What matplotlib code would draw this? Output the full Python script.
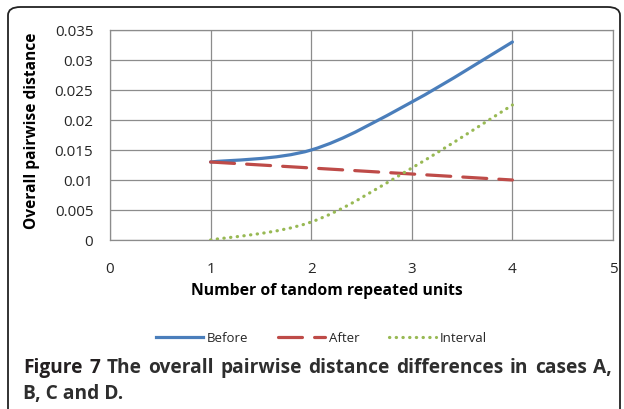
import numpy as np
import matplotlib.pyplot as plt
from matplotlib.path import Path
from matplotlib.patches import PathPatch, FancyBboxPatch
from matplotlib.lines import Line2D

# data
units = [1, 2, 3, 4]
before = [0.013, 0.015, 0.023, 0.033]
after = [0.013, 0.012, 0.011, 0.010]
interval = [0.0, 0.003, 0.012, 0.0225]

x_ticks = [0, 1, 2, 3, 4, 5]
y_ticks = [0, 0.005, 0.01, 0.015, 0.02, 0.025, 0.03, 0.035]
y_labels = ['0', '0.005', '0.01', '0.015', '0.02', '0.025', '0.03', '0.035']

caption_1 = 'Figure 7 The overall pairwise distance differences in cases A,'
caption_2 = 'B, C and D.'

c_before = '#4a7ebb'
c_after = '#be4b48'
c_interval = '#98b954'
grid_c = '#8c8c8c'
txt_c = '#262626'
cap_c = '#231f20'

plt.rcParams['font.family'] = ['Open Sans', 'DejaVu Sans']


def smooth_path(xs, ys):
    # excel-like smoothed line: cubic bezier through the points
    p = np.column_stack([xs, ys]).astype(float)
    n = len(p)
    verts = [p[0]]
    codes = [Path.MOVETO]
    for i in range(n - 1):
        p_prev = p[i - 1] if i > 0 else p[i]
        p_next = p[i + 2] if i + 2 < n else p[i + 1]
        c1 = p[i] + (p[i + 1] - p_prev) / 6.0
        c2 = p[i + 1] - (p_next - p[i]) / 6.0
        verts += [c1, c2, p[i + 1]]
        codes += [Path.CURVE4] * 3
    return Path(verts, codes)


fig = plt.figure(figsize=(6.24, 4.10), dpi=100)
ax = fig.add_axes([110 / 624, 1 - 241 / 410, 503 / 624, 210 / 410])

dash = (0, (7.5, 3.8))
dot = (0, (0.1, 2.0))
series = [
    (before, c_before, '-', 'Before'),
    (after, c_after, dash, 'After'),
    (interval, c_interval, dot, 'Interval'),
]
handles = []
for vals, col, ls, lab in series:
    patch = PathPatch(smooth_path(units, vals), fill=False, edgecolor=col,
                      lw=2.3, linestyle=ls, capstyle='round', joinstyle='round', zorder=3)
    ax.add_patch(patch)
    handles.append(Line2D([], [], color=col, lw=2.3, linestyle=ls,
                          dash_capstyle='round', label=lab))

ax.set_xlim(0, 5)
ax.set_ylim(0, 0.035)
ax.set_xticks(x_ticks)
ax.set_yticks(y_ticks)
ax.set_yticklabels(y_labels)
ax.grid(True, color=grid_c, lw=0.9)
ax.set_axisbelow(True)
for s in ax.spines.values():
    s.set_color(grid_c)
    s.set_linewidth(0.9)
ax.tick_params(length=0, labelsize=11, colors=txt_c)
ax.tick_params(axis='x', pad=15)
ax.tick_params(axis='y', pad=12)

ax.set_xlabel('Number of tandom repeated units', fontsize=11.3, fontweight='bold', color='black')
ax.set_ylabel('Overall pairwise distance', fontsize=11.2, fontweight='bold', color='black')
ax.xaxis.set_label_coords((327 - 110) / 503, -(291 - 241) / 210)
ax.yaxis.set_label_coords(-(110 - 32) / 503, (241 - 131) / 210)
ax.xaxis.label.set_va('center')
ax.yaxis.label.set_va('center')

fig.legend(handles=handles, loc='center', bbox_to_anchor=(0.515, 1 - 339 / 410),
           ncol=3, frameon=False, fontsize=9.5, handlelength=3.6, columnspacing=2.2,
           handletextpad=0.3, labelcolor=txt_c)

# caption, first line justified between x=23 and x=612
fig.canvas.draw()
r = fig.canvas.get_renderer()
cap_y = 1 - 368 / 410
words = caption_1.split(' ')
texts = []
for k, w in enumerate(words):
    col = cap_c if k < 2 else '#2e2e2e'
    texts.append(fig.text(0, cap_y, w, fontsize=13.8, fontweight='bold', va='center', color=col))
widths = [t.get_window_extent(r).width for t in texts]
gap = (612 - 23 - sum(widths)) / (len(words) - 1)
xpos = 23
for t, w in zip(texts, widths):
    t.set_x(xpos / 624)
    xpos += w + gap
fig.text(23 / 624, 1 - 394 / 410, caption_2, fontsize=13.8, fontweight='bold',
         va='center', color='#2e2e2e')

# rounded frame
frame = FancyBboxPatch((8 / 624, -0.2), 612 / 624, 1 - 8 / 410 + 0.2,
                       boxstyle='round,pad=0,rounding_size=0.02', transform=fig.transFigure,
                       fill=False, edgecolor='#222222', lw=1.3)
fig.patches.append(frame)

fig.savefig('out.png', dpi=100)
